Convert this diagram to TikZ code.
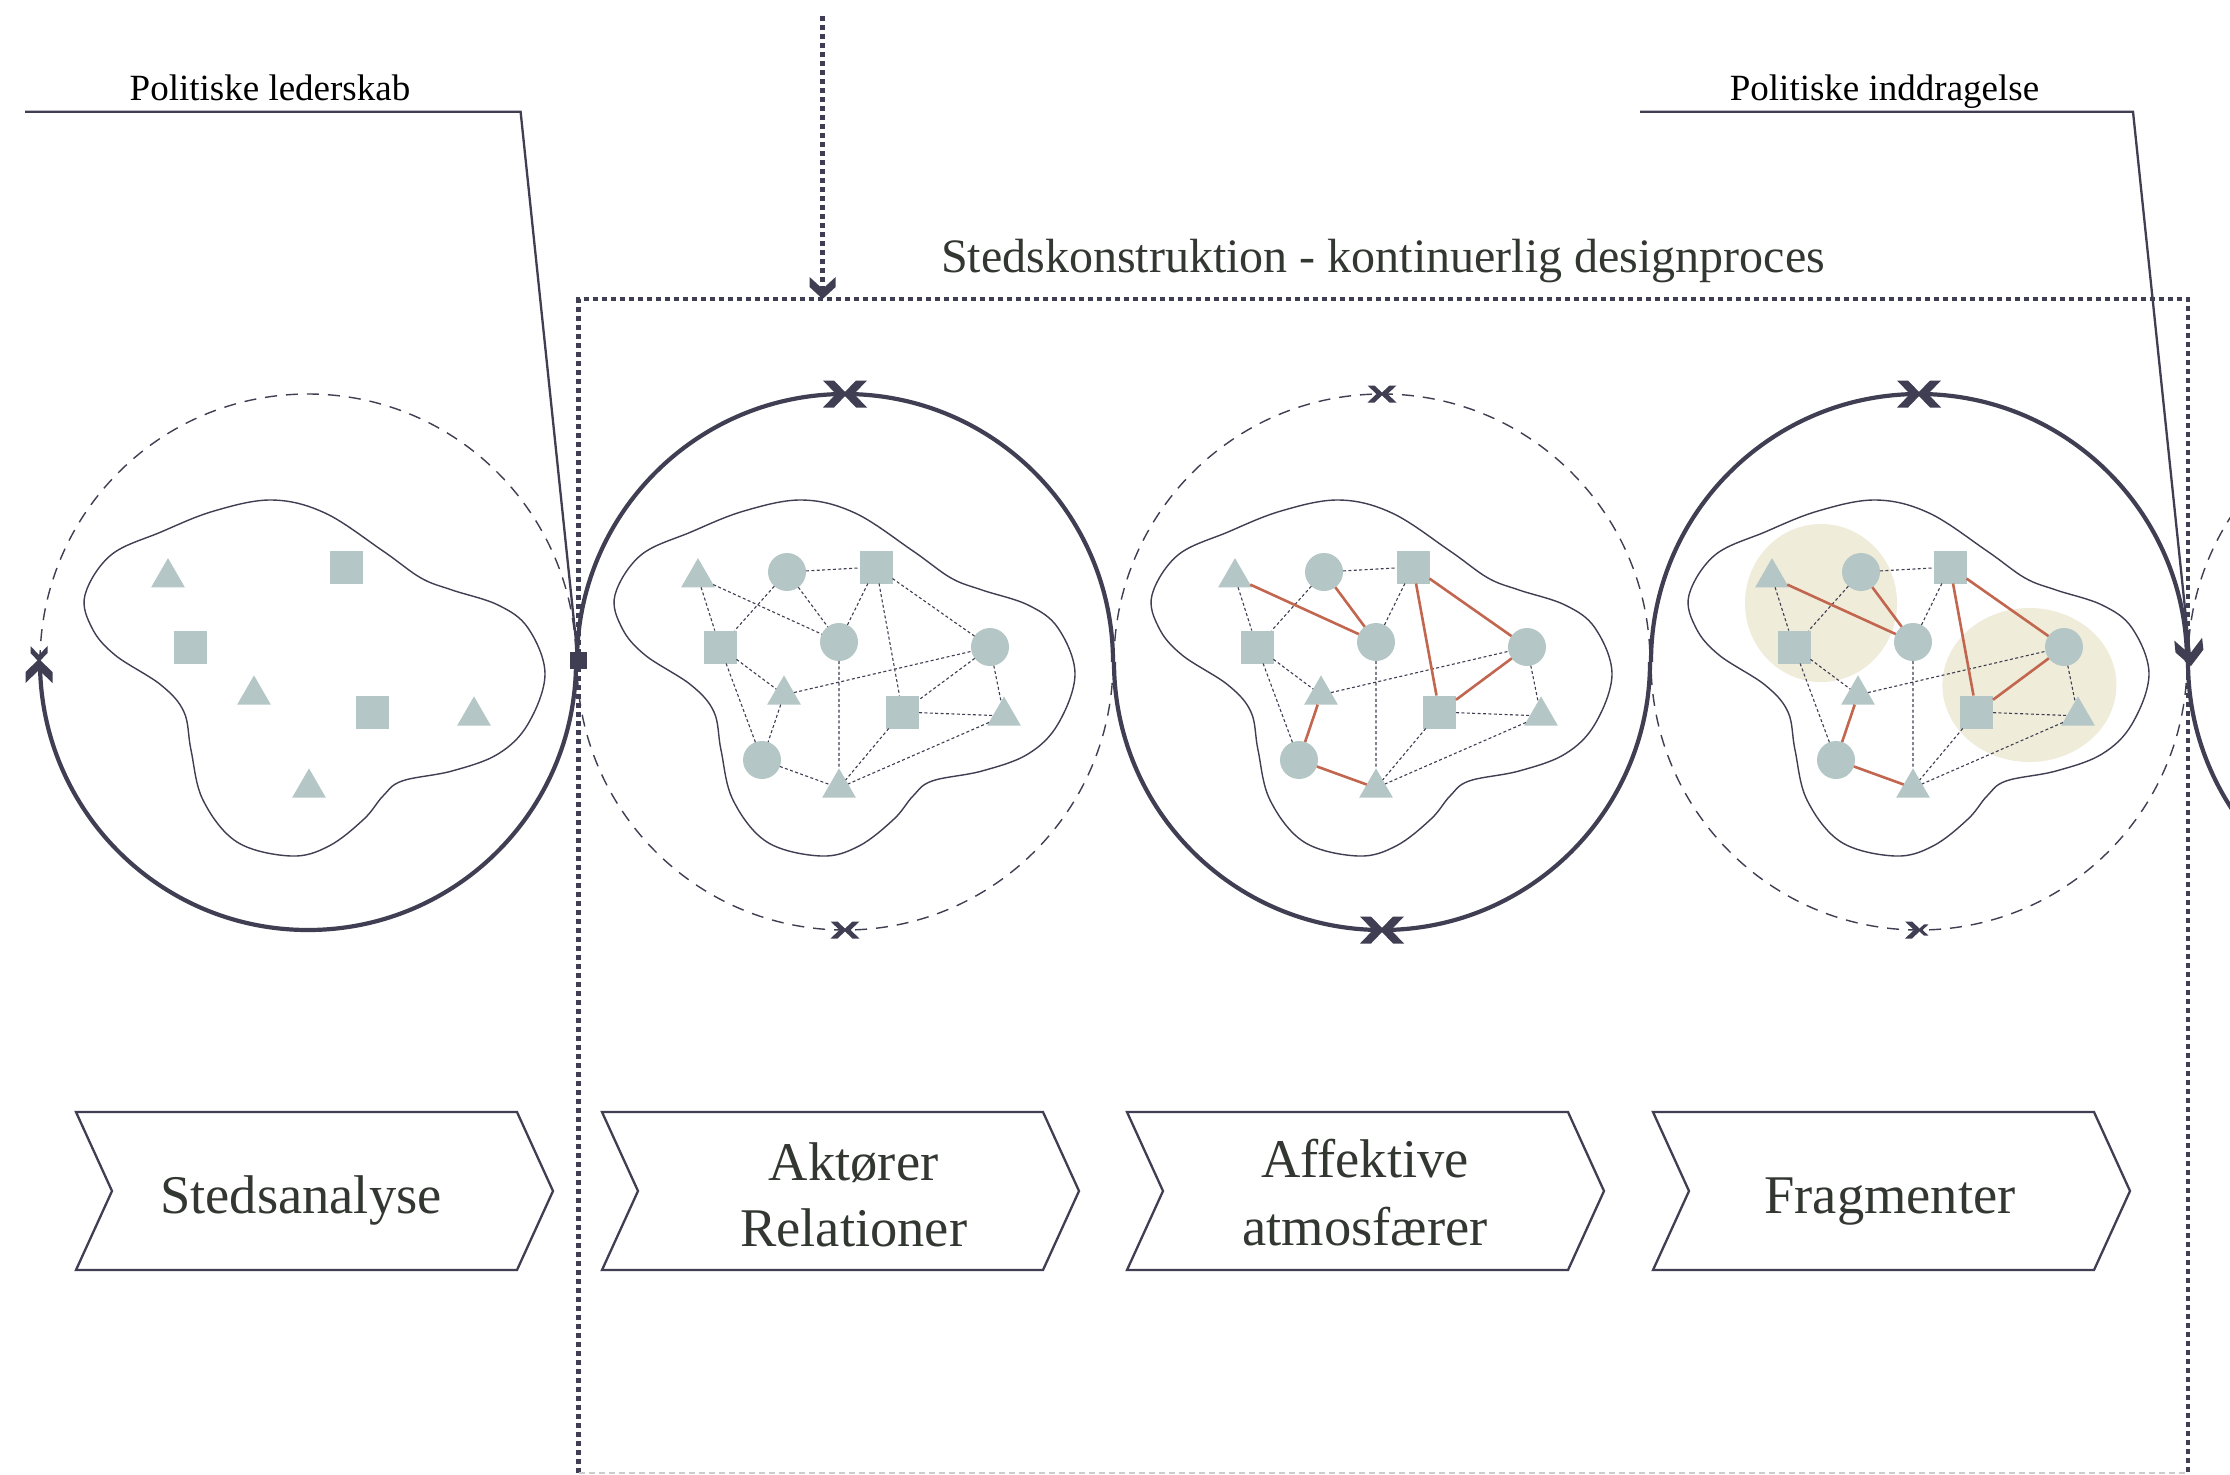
\documentclass[tikz,border=0pt]{standalone}
\usepackage{fontspec}
\setmainfont{Liberation Serif}
\usetikzlibrary{shapes.geometric,shapes.symbols,arrows.meta,calc}
\definecolor{ink}{HTML}{3F3E52}
\definecolor{shp}{HTML}{B4C7C6}
\definecolor{rdl}{HTML}{C2664F}
\definecolor{crm}{HTML}{EFECD9}
\definecolor{txt}{HTML}{333731}
% chevron arrowhead: #1 length, #2 half width, #3 arm width; tip at origin, pointing +x
\newcommand\chevtip[3]{\fill[ink] (0,0) -- (-#1+#3,-#2) -- (-#1,-#2) -- (-#3,0) -- (-#1,#2) -- (-#1+#3,#2) -- cycle;}
\tikzset{
  tri/.style={regular polygon, regular polygon sides=3, fill=shp, minimum size=39pt, inner sep=0pt, outer sep=0pt},
  sqr/.style={rectangle, fill=shp, minimum size=33pt, inner sep=0pt, outer sep=0pt},
  cir/.style={circle, fill=shp, minimum size=38pt, inner sep=0pt, outer sep=0pt},
  dotl/.style={draw=ink, line width=1.1pt, dash pattern=on 3pt off 2.4pt},
  keyl/.style={draw=rdl, line width=2.6pt},
  blobline/.style={draw=ink, line width=1.4pt},
  solidarc/.style={draw=ink, line width=4.2pt},
  dasharc/.style={draw=ink, line width=1.4pt, dash pattern=on 12pt off 9pt},
  dotline/.style={draw=ink, line width=4.3pt, dash pattern=on 5pt off 4pt},
  lead/.style={draw=ink, line width=2.3pt},
  lbl/.style={text=black, font=\fontsize{37}{44}\selectfont, inner sep=0pt},
  ttl/.style={text=txt, font=\fontsize{48}{56}\selectfont, inner sep=0pt},
  clab/.style={text=txt, font=\fontsize{54.5}{68}\selectfont, inner sep=0pt},
  chev/.style={signal, signal from=west, signal to=east, signal pointer angle=131,
    minimum width=477pt, minimum height=158pt, draw=ink, line width=2.3pt, inner sep=0pt, fill=white},
  bigtip/.pic={\chevtip{24}{13.5}{11}},
  smalltip/.pic={\chevtip{16}{8.5}{7}},
  droptip/.pic={\chevtip{22}{13}{10}},
  leadtip/.pic={\chevtip{27}{14}{12}}
}
\newcommand\myblob[1]{%
  \draw[blobline, shift={(#1,662)}] plot[smooth cycle, tension=0.6] coordinates {
   (-230,-67) (-204,-107) (-154,-130) (-101,-151) (-43,-162) (10,-149) (68,-111)
   (106,-84) (137,-72) (183,-57) (213,-34) (230,12) (213,62) (183,92) (137,109)
   (87,119) (68,134) (49,157) (14,184) (-24,194) (-78,180) (-112,138) (-124,88)
   (-131,50) (-154,23) (-200,-7) (-223,-34)};}
\newcommand\angularnodes[2]{%
  \begin{scope}[shift={(#2,662)}]
   \node[tri] (#1t1) at (-147,-84.4) {};
   \node[sqr] (#1s1) at (31,-95) {};
   \node[sqr] (#1s2) at (-125,-15) {};
   \node[tri] (#1t2) at (-61,32.9) {};
   \node[sqr] (#1s3) at (57.5,50) {};
   \node[tri] (#1t3) at (159,53.9) {};
   \node[tri] (#1t4) at (-6,125.9) {};
  \end{scope}}
\newcommand\roundnodes[2]{%
  \begin{scope}[shift={(#2,662)}]
   \node[cir] (#1c1) at (-58,-90) {};
   \node[cir] (#1c2) at (-6,-20) {};
   \node[cir] (#1c3) at (145,-15) {};
   \node[cir] (#1c4) at (-83,98) {};
  \end{scope}}
\newcommand\dotedges[1]{%
  \draw[dotl] (#1t1)--(#1s2) (#1c1)--(#1s1) (#1c1)--(#1s2) (#1s1)--(#1c2)
   (#1s2)--(#1t2) (#1s2)--(#1c4) (#1t2)--(#1c3) (#1c2)--(#1t4) (#1c3)--(#1t3)
   (#1s3)--(#1t3) (#1s3)--(#1t4) (#1t3)--(#1t4);}
\newcommand\keyedges[2]{%
  \draw[#2] (#1t1)--(#1c2) (#1c1)--(#1c2) (#1s1)--(#1c3) (#1s1)--(#1s3)
   (#1c3)--(#1s3) (#1t2)--(#1c4) (#1c4)--(#1t4);}
\begin{document}
\begin{tikzpicture}[x=1pt,y=-1pt]
\useasboundingbox (0,0) rectangle (2230,1475);
\fill[white] (0,0) rectangle (2230,1475);
\clip (0,0) rectangle (2230,1475);

% cream fragments
\fill[crm] (1821,603) ellipse[x radius=76, y radius=79];
\fill[crm] (2029.4,685) ellipse[x radius=87, y radius=77];

% blobs
\myblob{315}
\myblob{845}
\myblob{1382}
\myblob{1919}

% nodes
\angularnodes{a}{315}
\angularnodes{b}{845}\roundnodes{b}{845}
\angularnodes{c}{1382}\roundnodes{c}{1382}
\angularnodes{d}{1919}\roundnodes{d}{1919}

% edges
\dotedges{b}\keyedges{b}{dotl}
\dotedges{c}\keyedges{c}{keyl}
\dotedges{d}\keyedges{d}{keyl}

% big circles
\draw[solidarc] (308,662) ++(0:268) arc[start angle=0,end angle=180,radius=268];
\draw[dasharc]  (308,662) ++(180:268) arc[start angle=180,end angle=360,radius=268];
\draw[solidarc] (845,662) ++(180:268) arc[start angle=180,end angle=360,radius=268];
\draw[dasharc]  (845,662) ++(0:268) arc[start angle=0,end angle=180,radius=268];
\draw[solidarc] (1382,662) ++(0:268) arc[start angle=0,end angle=180,radius=268];
\draw[dasharc]  (1382,662) ++(180:268) arc[start angle=180,end angle=360,radius=268];
\draw[solidarc] (1919,662) ++(180:268) arc[start angle=180,end angle=360,radius=268];
\draw[dasharc]  (1919,662) ++(0:268) arc[start angle=0,end angle=180,radius=268];
\draw[solidarc] (2456,662) ++(0:268) arc[start angle=0,end angle=180,radius=268];
\draw[dasharc]  (2456,662) ++(180:268) arc[start angle=180,end angle=360,radius=268];

% arc markers
\pic[rotate=90] at (39,659) {bigtip};
\pic[rotate=-90] at (39,662) {smalltip};
\pic at (847,394) {bigtip};
\pic[rotate=180] at (843,394) {bigtip};
\pic at (846.5,930) {smalltip};
\pic[rotate=180] at (843.5,930) {smalltip};
\pic at (1383.5,394) {smalltip};
\pic[rotate=180] at (1380.5,394) {smalltip};
\pic at (1384,930) {bigtip};
\pic[rotate=180] at (1380,930) {bigtip};
\pic at (1921,394) {bigtip};
\pic[rotate=180] at (1917,394) {bigtip};
\pic at (1921,930) {smalltip};
\pic[rotate=180, scale=0.65] at (1918,930) {smalltip};

% process frame
\draw[dotline] (578.6,1473) -- (578.6,299) -- (2188,299) -- (2188,1473);
\draw[gray!40, line width=1.2pt, dash pattern=on 6pt off 4pt] (578.6,1473) -- (2188,1473);
\coordinate (vA) at (822.6,16);
\coordinate (vB) at (822.6,299);
\coordinate (vC) at (822.6,289);
\draw[dotline] (vA) -- (vC);
\pic[rotate=-90] at (vB) {droptip};

% leader lines
\node[fill=ink, minimum size=17pt, inner sep=0pt] (sqm) at (578,660) {};
\coordinate (lA) at (25,111.7);
\coordinate (lB) at (520.6,111.7);
\draw[lead] (lA) -- (lB) -- (sqm);
\coordinate (rA) at (1640,111.7);
\coordinate (rB) at (2133,111.7);
\coordinate (rC) at (2191,666);
\draw[lead] (rA) -- (rB) -- ($(rB)!0.98!(rC)$);
\pic[rotate=-84] at (rC) {leadtip};

% texts
\node[lbl, anchor=base] (tl) at (270,100.7) {Politiske lederskab};
\node[lbl, anchor=base] (tr) at (1884.5,100.7) {Politiske inddragelse};
\node[ttl, anchor=base] (title) at (1383,272) {Stedskonstruktion - kontinuerlig designproces};

% chevrons
\node[chev] (ch1) at (314.5,1191) {};
\node[chev] (ch2) at (840.5,1191) {};
\node[chev] (ch3) at (1365.5,1191) {};
\node[chev] (ch4) at (1891.5,1191) {};
\node[clab, anchor=base] (k1) at (301,1213) {Stedsanalyse};
\node[clab, anchor=base] (k2a) at (853.6,1180) {Aktører};
\node[clab, anchor=base] (k2b) at (853.6,1246.7) {Relationer};
\node[clab, anchor=base] (k3a) at (1365,1177) {Affektive};
\node[clab, anchor=base] (k3b) at (1365,1245) {atmosfærer};
\node[clab, anchor=base] (k4) at (1890,1213) {Fragmenter};
\end{tikzpicture}
\end{document}
